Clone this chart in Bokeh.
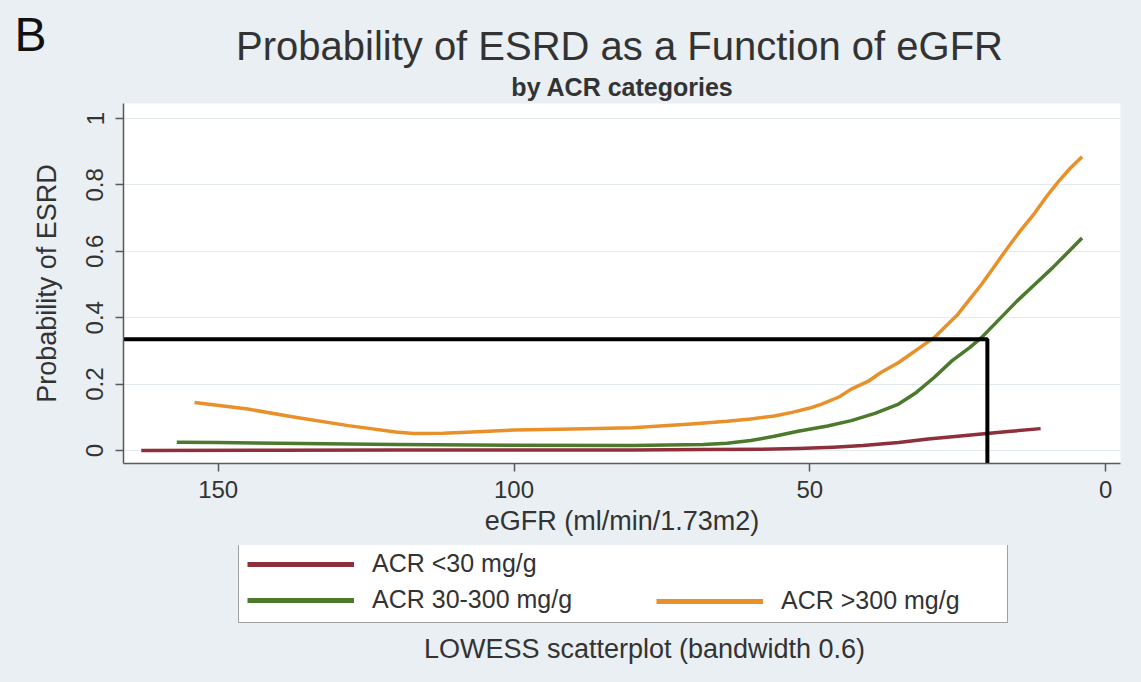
import numpy as np
from bokeh.plotting import figure
from bokeh.layouts import column
from bokeh.models import Range1d, FixedTicker, Legend, LegendItem, NumeralTickFormatter
from bokeh.core.properties import value
from bokeh.embed import file_html
from bokeh.resources import INLINE

# ---- data ----
egfr_lt30 = [163, 140, 120, 100, 80, 68, 58, 52, 46, 41, 35, 30, 25, 21, 16, 11]
prob_lt30 = [0.0, 0.001, 0.002, 0.002, 0.002, 0.003, 0.004, 0.006, 0.01, 0.015, 0.024,
             0.035, 0.043, 0.05, 0.058, 0.066]

egfr_30_300 = [157, 150, 140, 120, 100, 80, 68, 64, 60, 56, 52, 47, 43, 39, 35, 32, 29, 26,
               23, 21, 18, 15, 12, 9, 6.5, 4]
prob_30_300 = [0.025, 0.024, 0.022, 0.018, 0.016, 0.015, 0.018, 0.022, 0.03, 0.043, 0.058,
               0.074, 0.09, 0.112, 0.14, 0.175, 0.22, 0.27, 0.31, 0.34, 0.395, 0.45, 0.50,
               0.55, 0.595, 0.64]

egfr_gt300 = [154, 145, 137, 128, 120, 117, 112, 108, 100, 90, 80, 70, 64, 60, 56, 53, 50,
              48, 45, 43, 40, 38, 35, 33, 31, 29, 27, 25, 23, 21, 19, 17, 14.5, 12, 10, 8,
              6, 4]
prob_gt300 = [0.145, 0.125, 0.10, 0.075, 0.056, 0.051, 0.052, 0.055, 0.062, 0.065, 0.069,
              0.080, 0.088, 0.095, 0.104, 0.115, 0.128, 0.14, 0.162, 0.185, 0.21, 0.235,
              0.265, 0.29, 0.315, 0.34, 0.375, 0.41, 0.455, 0.50, 0.55, 0.60, 0.66, 0.715,
              0.765, 0.81, 0.85, 0.885]

series_names = ["ACR <30 mg/g", "ACR 30-300 mg/g", "ACR >300 mg/g"]
series_colors = ["#8e2f3c", "#4b7a2c", "#e8902a"]

x_ticks = [0, 50, 100, 150]
y_ticks = [0, 0.2, 0.4, 0.6, 0.8, 1]

x_lo, x_hi = -2.5, 166
y_lo, y_hi = -0.039, 1.045

# highlighted cut-off (eGFR 20, probability ~0.335)
cut_egfr = 20
cut_prob = 0.335
box_x = [x_hi, cut_egfr, cut_egfr]
box_y = [cut_prob, cut_prob, y_lo]

panel_letter = "B"
title_text = "Probability of ESRD as a Function of eGFR"
subtitle_text = "by ACR categories"
note_text = "LOWESS scatterplot (bandwidth 0.6)"

# ---- layout ----
W = 1141
TOP_H, MAIN_H, BOT_H = 103, 442, 137
FL, FR = 123, 1120
FRAME_H = 360
BG = "#e9eff2"
TXT = "#333333"
FONT = "Liberation Sans"


def no_align(f):
    if "frame_align" in f.properties():
        f.frame_align = False


def blank_fig(h):
    f = figure(width=W, height=h, output_backend="svg", toolbar_location=None,
               x_axis_type=None, y_axis_type=None,
               x_range=Range1d(0, W), y_range=Range1d(h, 0),
               min_border=0, min_border_left=0, min_border_right=0,
               min_border_top=0, min_border_bottom=0)
    f.border_fill_color = BG
    f.background_fill_color = BG
    f.outline_line_color = None
    no_align(f)
    return f


# ---- top: panel letter, title, subtitle ----
p_top = blank_fig(TOP_H)
p_top.text(x=[14], y=[34], text=[panel_letter], text_font=value(FONT),
           text_font_size="48px", text_align="left", text_baseline="middle",
           text_color="#111111")
p_top.text(x=[619], y=[45], text=[title_text], text_font=value(FONT),
           text_font_size="40px", text_align="center", text_baseline="middle",
           text_color=TXT)
p_top.text(x=[622], y=[86], text=[subtitle_text], text_font=value(FONT),
           text_font_size="25px", text_font_style="bold", text_align="center",
           text_baseline="middle", text_color=TXT)

# ---- main plot ----
p = figure(width=W, height=MAIN_H, output_backend="svg", toolbar_location=None,
           x_range=Range1d(x_hi, x_lo), y_range=Range1d(y_lo, y_hi),
           min_border_left=FL, min_border_right=W - FR,
           min_border_top=0, min_border_bottom=MAIN_H - FRAME_H)
no_align(p)
p.border_fill_color = BG
p.background_fill_color = "white"
p.outline_line_color = None

for ax in (p.xaxis[0], p.yaxis[0]):
    ax.axis_line_color = "#5a5a5a"
    ax.axis_line_width = 1.5
    ax.major_tick_line_color = "#5a5a5a"
    ax.major_tick_line_width = 1.5
    ax.major_tick_out = 8
    ax.major_tick_in = 0
    ax.minor_tick_line_color = None
    ax.major_label_text_font = FONT
    ax.major_label_text_color = TXT
    ax.major_label_text_font_size = "24px"
    ax.axis_label_text_font = FONT
    ax.axis_label_text_color = TXT
    ax.axis_label_text_font_size = "27px"
    ax.axis_label_text_font_style = "normal"

p.xaxis.ticker = FixedTicker(ticks=x_ticks)
p.yaxis.ticker = FixedTicker(ticks=y_ticks)
p.yaxis.formatter = NumeralTickFormatter(format="0.[0]")
p.yaxis.major_label_orientation = "vertical"
p.xaxis.axis_label = "eGFR (ml/min/1.73m2)"
p.yaxis.axis_label = "Probability of ESRD"
p.xaxis.major_label_standoff = 9
p.yaxis.major_label_standoff = 12
p.xaxis.axis_label_standoff = 5
p.yaxis.axis_label_standoff = 22

p.xgrid.grid_line_color = None
p.ygrid.ticker = FixedTicker(ticks=y_ticks)
p.ygrid.grid_line_color = "#e3eaee"
p.ygrid.grid_line_width = 1.2

p.line(egfr_lt30, prob_lt30, line_color=series_colors[0], line_width=3.5, line_join="round")
p.line(egfr_30_300, prob_30_300, line_color=series_colors[1], line_width=3.5, line_join="round")
p.line(egfr_gt300, prob_gt300, line_color=series_colors[2], line_width=3.5, line_join="round")
p.line(box_x, box_y, line_color="black", line_width=4)

# ---- bottom: legend and note ----
p_bot = blank_fig(BOT_H)
nan_pt = np.array([np.nan])
keys = [p_bot.line(x=nan_pt, y=nan_pt, line_color=c, line_width=5) for c in series_colors]

leg_common = dict(orientation="vertical", glyph_width=107, glyph_height=24,
                  label_height=24, label_standoff=18, spacing=7, padding=8, margin=0,
                  label_text_font=FONT, label_text_font_size="25px",
                  label_text_color=TXT)
legA = Legend(items=[LegendItem(label=series_names[0], renderers=[keys[0]]),
                     LegendItem(label=series_names[1], renderers=[keys[1]])],
              location=(238, 59), label_width=627,
              border_line_color="#444444", border_line_width=1,
              background_fill_color="white", background_fill_alpha=1, **leg_common)
legB = Legend(items=[LegendItem(label=series_names[2], renderers=[keys[2]])],
              location=(648, 59), border_line_alpha=0, background_fill_alpha=0,
              **leg_common)
p_bot.add_layout(legA, "center")
p_bot.add_layout(legB, "center")

p_bot.text(x=[644], y=[103], text=[note_text], text_font=value(FONT),
           text_font_size="27px", text_align="center", text_baseline="middle",
           text_color=TXT)

layout = column(p_top, p, p_bot, spacing=0)
html = file_html(layout, INLINE)
html = html.replace("<head>", "<head><style>html,body{margin:0;background:%s;}</style>" % BG, 1)
open("out.html", "w").write(html)
